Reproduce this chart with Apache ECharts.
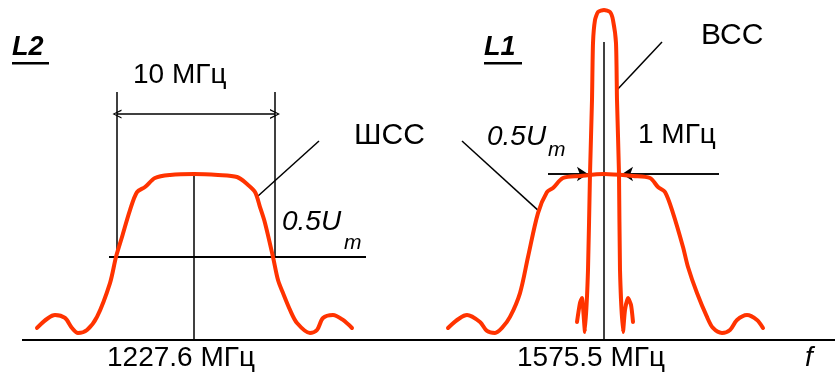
<!DOCTYPE html>
<html>
<head>
<meta charset="utf-8">
<script src="https://cdn.jsdelivr.net/npm/echarts@6/dist/echarts.min.js"></script>
<style>
html, body { margin: 0; padding: 0; background: #fff; }
#chart { width: 835px; height: 372px; }
</style>
</head>
<body>
<div id="chart"></div>
<script>
// спектры L2 / L1, по вертикали амплитуда в долях Um, по горизонтали условная частота
const l2ShccX = [37, 55, 65, 72, 78, 87, 97, 110, 116, 122, 130, 137, 145, 155, 170, 194, 218, 237, 247, 255, 260, 265, 273, 278, 283, 290, 297, 310, 317, 323, 333, 343, 352]
const l2ShccY = [0.072, 0.150, 0.132, 0.072, 0.042, 0.060, 0.138, 0.341, 0.497, 0.617, 0.778, 0.886, 0.916, 0.970, 0.988, 0.994, 0.988, 0.976, 0.934, 0.886, 0.796, 0.701, 0.497, 0.359, 0.281, 0.180, 0.102, 0.042, 0.060, 0.132, 0.150, 0.120, 0.072]

const l1ShccX = [448, 467, 480, 487, 495, 502, 510, 520, 528, 538, 547, 553, 563, 580, 604, 633, 650, 658, 665, 673, 683, 688, 697, 707, 713, 722, 730, 737, 747, 757, 763]
const l1ShccY = [0.072, 0.150, 0.108, 0.054, 0.042, 0.072, 0.138, 0.281, 0.497, 0.760, 0.886, 0.910, 0.970, 0.982, 0.994, 0.982, 0.970, 0.916, 0.886, 0.760, 0.557, 0.437, 0.281, 0.138, 0.072, 0.042, 0.060, 0.120, 0.150, 0.120, 0.072]

const l1BccX = [577, 580, 582, 583, 585, 588, 590, 592, 593, 595, 598, 604, 610, 613, 616, 617, 619, 620, 623, 625, 628, 631, 633]
const l1BccY = [0.108, 0.222, 0.251, 0.198, 0.048, 0.419, 0.994, 1.437, 1.778, 1.916, 1.964, 1.976, 1.964, 1.916, 1.778, 1.437, 0.994, 0.419, 0.048, 0.180, 0.251, 0.210, 0.108]

// вспомогательные линии (частота, уровень)
const baseLine = [[22, 0], [835, 0]]
const l2Center = [[194, 0], [194, 1.0]]
const l2BandLeft = [[117, 0.5], [117, 1.485]]
const l2BandRight = [[275, 0.5], [275, 1.485]]
const l2Half = [[109, 0.5], [366, 0.5]]
const l2Arrow = [[117, 1.353], [275, 1.353]]
const l2Leader = [[319, 1.192], [258, 0.862]]
const l1Center = [[604, 0], [604, 1.784]]
const l1Level = [[548, 0.994], [719, 0.994]]
const l1ArrowLeft = [[548, 0.994], [588, 0.994]]
const l1ArrowRight = [[719, 0.994], [622, 0.994]]
const l1ShccLeader = [[462, 1.192], [539, 0.772]]
const l1BccLeader = [[662, 1.784], [616, 1.491]]

const RED = '#ff3300'
const FONT = '"Liberation Sans", Arial, sans-serif'

function zip (xs, ys) {
    return xs.map((x, i) => [x, ys[i]])
}

function curve (name, xs, ys, smooth) {
    return {
        name: name,
        type: 'line',
        data: zip(xs, ys),
        smooth: smooth,
        symbol: 'none',
        clip: false,
        z: 5,
        lineStyle: { color: RED, width: 4, cap: 'round', join: 'round' }
    }
}

function seg (coords, opts) {
    opts = opts || {}
    return {
        type: 'lines',
        coordinateSystem: 'cartesian2d',
        polyline: false,
        silent: true,
        z: 3,
        symbol: opts.symbol || ['none', 'none'],
        symbolSize: opts.symbolSize || 10,
        lineStyle: { color: '#000', width: opts.width || 1.5, opacity: 1, curveness: 0 },
        data: [{ coords: coords }]
    }
}

function txt (text, x, y, size, style, weight) {
    return {
        type: 'text',
        left: x,
        top: y - size / 2,
        style: {
            text: text,
            fill: '#000',
            font: (style || 'normal') + ' ' + (weight || 'normal') + ' ' + size + 'px ' + FONT
        }
    }
}

const chevron = 'path://M6,0 L12,14 L10.2,14 L6,3.5 L1.8,14 L0,14 Z'

const myChart = echarts.init(document.getElementById('chart'))
myChart.setOption({
    animation: false,
    grid: { left: 0, right: 0, top: 0, bottom: 0 },
    xAxis: { type: 'value', min: 0, max: 835, show: false },
    yAxis: { type: 'value', min: -0.1916, max: 2.0359, show: false },
    series: [
        seg(baseLine, { width: 2 }),
        seg(l2Center),
        seg(l2BandLeft),
        seg(l2BandRight),
        seg(l2Half, { width: 2 }),
        seg(l2Arrow, { symbol: [chevron, chevron], symbolSize: [9, 10] }),
        seg(l2Leader),
        seg(l1Center),
        seg(l1Level),
        seg(l1ArrowLeft, { symbol: ['none', 'arrow'], symbolSize: [7, 11] }),
        seg(l1ArrowRight, { symbol: ['none', 'arrow'], symbolSize: [7, 11] }),
        seg(l1ShccLeader),
        seg(l1BccLeader),
        curve('L2 ШСС', l2ShccX, l2ShccY, 0.3),
        curve('L1 ШСС', l1ShccX, l1ShccY, 0.3),
        curve('L1 ВСС', l1BccX, l1BccY, 0.2)
    ],
    graphic: [
        txt('L2', 12, 48, 27, 'italic', 'bold'),
        { type: 'rect', shape: { x: 12, y: 62, width: 37, height: 2.5 }, style: { fill: '#000' } },
        txt('L1', 484, 48, 27, 'italic', 'bold'),
        { type: 'rect', shape: { x: 484, y: 62, width: 38, height: 2.5 }, style: { fill: '#000' } },
        txt('10 МГц', 133, 75, 28),
        txt('ШСС', 354, 136, 30),
        txt('0.5U', 282, 222, 28, 'italic'),
        txt('m', 344, 243, 21, 'italic'),
        txt('0.5U', 487, 137, 28, 'italic'),
        txt('m', 548, 150, 21, 'italic'),
        txt('1 МГц', 638, 135, 28),
        txt('ВСС', 701, 36, 30),
        txt('1227.6 МГц', 107, 358, 28),
        txt('1575.5 МГц', 517, 358, 28),
        txt('f', 805, 358, 28, 'italic')
    ]
})
</script>
</body>
</html>
